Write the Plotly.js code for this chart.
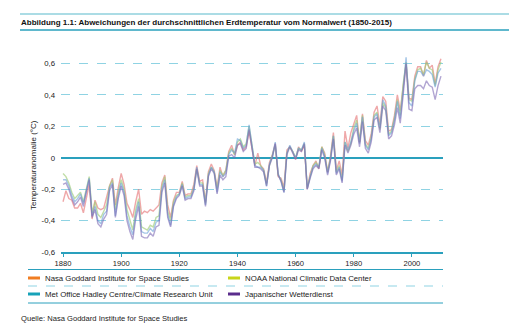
<!DOCTYPE html>
<html><head><meta charset="utf-8">
<script src="https://cdn.plot.ly/plotly-3.0.1.min.js"></script>
<style>html,body{margin:0;padding:0;background:#fff}#c{width:509px;height:335px}</style>
</head><body><div id="c"></div>
<script>
const years = [];
for (let y = 1880; y <= 2010; y++) years.push(y);

const nasa = [-0.28,-0.21,-0.26,-0.27,-0.32,-0.32,-0.29,-0.35,-0.26,-0.17,
-0.39,-0.27,-0.32,-0.33,-0.32,-0.25,-0.18,-0.13,-0.30,-0.19,
-0.10,-0.17,-0.29,-0.33,-0.38,-0.28,-0.20,-0.36,-0.34,-0.35,
-0.33,-0.34,-0.32,-0.30,-0.16,-0.11,-0.30,-0.38,-0.27,-0.22,
-0.22,-0.15,-0.24,-0.23,-0.23,-0.17,-0.05,-0.15,-0.14,-0.28,
-0.09,-0.04,-0.08,-0.19,-0.06,-0.12,-0.08,0.04,0.08,0.02,
0.08,0.10,0.05,0.07,0.17,0.05,-0.05,0.03,-0.05,-0.07,
-0.16,-0.03,0.02,0.09,-0.12,-0.13,-0.19,0.05,0.07,0.04,
-0.01,0.07,0.04,0.08,-0.20,-0.10,-0.05,-0.02,-0.07,0.07,
0.03,-0.09,0.01,0.16,-0.08,-0.02,-0.11,0.17,0.06,0.16,
0.22,0.27,0.10,0.28,0.11,0.08,0.15,0.29,0.33,0.21,
0.39,0.36,0.17,0.18,0.27,0.40,0.30,0.45,0.60,0.38,
0.37,0.52,0.58,0.58,0.52,0.62,0.57,0.59,0.47,0.58,
0.63];

const noaa = [-0.10,-0.12,-0.16,-0.22,-0.26,-0.24,-0.22,-0.28,-0.20,-0.12,
-0.35,-0.28,-0.36,-0.38,-0.34,-0.30,-0.18,-0.14,-0.33,-0.22,
-0.14,-0.20,-0.33,-0.40,-0.46,-0.33,-0.26,-0.44,-0.45,-0.46,
-0.43,-0.44,-0.38,-0.37,-0.18,-0.12,-0.34,-0.40,-0.28,-0.24,
-0.23,-0.16,-0.25,-0.24,-0.24,-0.19,-0.07,-0.16,-0.16,-0.29,
-0.10,-0.06,-0.09,-0.20,-0.08,-0.11,-0.08,0.03,0.06,0.02,
0.10,0.12,0.07,0.09,0.20,0.08,-0.04,-0.03,-0.05,-0.08,
-0.17,-0.05,0.01,0.08,-0.11,-0.14,-0.21,0.03,0.07,0.04,
0.00,0.06,0.05,0.09,-0.19,-0.11,-0.05,-0.03,-0.06,0.07,
0.02,-0.09,0.00,0.14,-0.09,-0.05,-0.14,0.10,0.04,0.09,
0.19,0.24,0.10,0.27,0.09,0.06,0.13,0.27,0.29,0.18,
0.35,0.32,0.15,0.17,0.25,0.37,0.27,0.47,0.61,0.37,
0.36,0.50,0.56,0.57,0.53,0.61,0.57,0.56,0.46,0.56,
0.61];

const hadcru = [-0.14,-0.14,-0.18,-0.24,-0.28,-0.26,-0.23,-0.29,-0.21,-0.13,
-0.37,-0.31,-0.40,-0.42,-0.36,-0.34,-0.19,-0.16,-0.37,-0.24,
-0.16,-0.22,-0.37,-0.44,-0.49,-0.36,-0.28,-0.47,-0.48,-0.48,
-0.45,-0.47,-0.41,-0.40,-0.20,-0.14,-0.36,-0.43,-0.30,-0.25,
-0.23,-0.17,-0.26,-0.25,-0.25,-0.20,-0.06,-0.17,-0.17,-0.30,
-0.11,-0.06,-0.09,-0.22,-0.09,-0.12,-0.10,0.02,0.05,0.03,
0.12,0.11,0.06,0.08,0.21,0.09,-0.05,-0.06,-0.06,-0.08,
-0.18,-0.04,0.01,0.10,-0.10,-0.15,-0.22,0.03,0.08,0.04,
0.00,0.06,0.05,0.10,-0.20,-0.12,-0.06,-0.04,-0.06,0.06,
0.01,-0.10,-0.01,0.14,-0.10,-0.06,-0.15,0.10,0.05,0.10,
0.17,0.22,0.09,0.26,0.08,0.05,0.12,0.26,0.28,0.19,
0.37,0.33,0.14,0.16,0.24,0.36,0.25,0.43,0.64,0.35,
0.33,0.49,0.55,0.55,0.52,0.56,0.55,0.53,0.45,0.54,
0.57];

const jma = [-0.17,-0.16,-0.20,-0.26,-0.30,-0.28,-0.25,-0.31,-0.22,-0.14,
-0.38,-0.33,-0.42,-0.44,-0.39,-0.36,-0.21,-0.17,-0.38,-0.26,
-0.18,-0.24,-0.40,-0.47,-0.52,-0.39,-0.31,-0.50,-0.51,-0.51,
-0.48,-0.50,-0.44,-0.43,-0.22,-0.16,-0.38,-0.44,-0.31,-0.26,
-0.24,-0.18,-0.27,-0.26,-0.26,-0.21,-0.07,-0.18,-0.18,-0.31,
-0.12,-0.07,-0.10,-0.23,-0.11,-0.14,-0.12,0.01,0.02,0.00,
0.08,0.09,0.04,0.06,0.18,0.06,-0.06,-0.06,-0.07,-0.09,
-0.18,-0.05,0.00,0.09,-0.11,-0.15,-0.22,0.02,0.07,0.03,
-0.01,0.05,0.04,0.09,-0.20,-0.13,-0.07,-0.05,-0.07,0.05,
0.00,-0.11,-0.02,0.12,-0.11,-0.07,-0.16,0.08,0.03,0.08,
0.15,0.19,0.07,0.23,0.06,0.03,0.10,0.24,0.26,0.16,
0.33,0.30,0.12,0.14,0.21,0.32,0.22,0.40,0.60,0.31,
0.30,0.44,0.46,0.46,0.44,0.49,0.46,0.45,0.37,0.46,
0.52];

const seriesNames = ["Nasa Goddard Institute for Space Studies","NOAA National Climatic Data Center","Met Office Hadley Centre/Climate Research Unit","Japanischer Wetterdienst"];
const lineColors = ["rgba(228,110,112,0.6)","rgba(160,205,120,0.65)","rgba(105,160,215,0.6)","rgba(125,105,180,0.6)"];
const swatchColors = ["#f07d22","#c8d51a","#17a2b8","#5a2d8c"];
const yTickVals = [-0.6,-0.4,-0.2,0,0.2,0.4,0.6];
const yTickText = ["-0,6","-0,4","-0,2","0","0,2","0,4","0,6"];
const xTickVals = [1880,1900,1920,1940,1960,1980,2000];

const titleText = "Abbildung 1.1: Abweichungen der durchschnittlichen Erdtemperatur vom Normalwert (1850-2015)";
const yTitle = "Temperaturanomalie (°C)";
const sourceText = "Quelle: Nasa Goddard Institute for Space Studies";

const W = 509, H = 335, L = 61, R = 66, T = 51, B = 83;
const PW = W - L - R, PH = H - T - B;
const px = v => (v - L) / PW;
const py = v => (H - B - v) / PH;

const FONT = "'Liberation Sans', Arial, sans-serif";
const TXT = "#222";

const data = [nasa, noaa, hadcru, jma].map((s, i) => ({
  x: years, y: s, type: "scatter", mode: "lines", name: seriesNames[i],
  line: {color: lineColors[i], width: 1.4}, hoverinfo: "skip", showlegend: false
}));

const shapes = [
  {type:"line", xref:"paper", yref:"paper", x0:px(20), x1:px(509), y0:py(14), y1:py(14), line:{color:"#8fd0dd", width:1.5}},
  {type:"line", xref:"paper", yref:"paper", x0:px(20), x1:px(509), y0:py(30), y1:py(30), line:{color:"#2aa0bd", width:1.5}},
  {type:"line", xref:"paper", yref:"paper", x0:px(28), x1:px(443), y0:py(269.5), y1:py(269.5), line:{color:"#2aa0bd", width:1}},
  {type:"line", xref:"paper", yref:"paper", x0:px(28), x1:px(443), y0:py(286), y1:py(286), line:{color:"#8fd3e3", width:1, dash:"dash"}},
  {type:"line", xref:"paper", yref:"paper", x0:px(28), x1:px(443), y0:py(303), y1:py(303), line:{color:"#2aa0bd", width:1}}
];
const annotations = [
  {xref:"paper", yref:"paper", x:px(19), y:py(22.5), xanchor:"left", yanchor:"middle", showarrow:false,
   text:"<b>"+titleText+"</b>", font:{family:FONT, size:8, color:"#111"}},
  {xref:"paper", yref:"paper", x:px(33), y:py(165), xanchor:"center", yanchor:"middle", showarrow:false, textangle:-90,
   text:yTitle, font:{family:FONT, size:8, color:TXT}},
  {xref:"paper", yref:"paper", x:px(19), y:py(318), xanchor:"left", yanchor:"middle", showarrow:false,
   text:sourceText, font:{family:FONT, size:7.6, color:TXT}}
];
const legendPos = [[28,278],[228,278],[28,294],[228,294]];
seriesNames.forEach((n, i) => {
  const [lx, ly] = legendPos[i];
  shapes.push({type:"rect", xref:"paper", yref:"paper", x0:px(lx), x1:px(lx+12), y0:py(ly-1.5), y1:py(ly+1.5),
    fillcolor:swatchColors[i], line:{width:0}});
  annotations.push({xref:"paper", yref:"paper", x:px(lx+15), y:py(ly), xanchor:"left", yanchor:"middle", showarrow:false,
    text:n, font:{family:FONT, size:7.8, color:TXT}});
});

const layout = {
  width: W, height: H, margin: {l: L, r: R, t: T, b: B, pad: 0},
  paper_bgcolor: "#fff", plot_bgcolor: "#fff", showlegend: false,
  font: {family: FONT, size: 8, color: TXT},
  xaxis: {range: [1879.3, 2010.7], tickvals: xTickVals, showgrid: false, zeroline: false,
    showline: true, linecolor: "#2aa0bd", linewidth: 1.5, ticks: "outside", ticklen: 3, tickcolor: "#2aa0bd",
    tickfont: {family: FONT, size: 7.6, color: TXT}, fixedrange: true},
  yaxis: {range: [-0.6, 0.68], tickvals: yTickVals, ticktext: yTickText, showgrid: true,
    gridcolor: "#8fd3e3", griddash: "dash", gridwidth: 1, zeroline: true, zerolinecolor: "#2aa0bd", zerolinewidth: 1.5,
    showline: false, ticks: "", ticklabelstandoff: 5, tickfont: {family: FONT, size: 7.8, color: TXT}, fixedrange: true},
  shapes: shapes, annotations: annotations
};
Plotly.newPlot("c", data, layout, {displayModeBar: false, staticPlot: true});
</script></body></html>
